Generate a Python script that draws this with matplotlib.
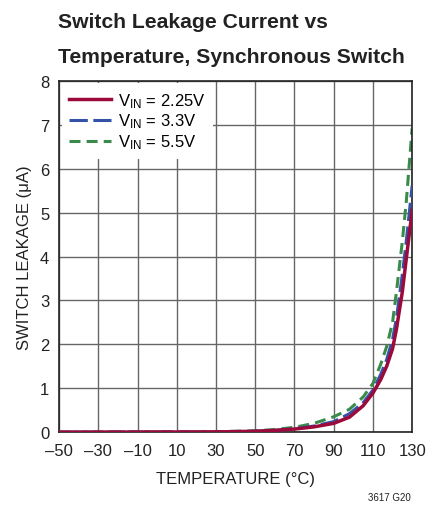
import matplotlib
matplotlib.use('Agg')
import matplotlib.pyplot as plt

# Data
temp = [-50, 30, 50, 60, 70, 80, 90, 98, 105, 110, 114, 117, 120, 122, 125, 127, 130]
leak_225 = [0.0, 0.005, 0.02, 0.04, 0.07, 0.12, 0.2, 0.34, 0.6, 0.89, 1.2, 1.5, 1.9, 2.35, 3.2, 3.95, 5.05]
leak_33 = [0.0, 0.005, 0.02, 0.04, 0.08, 0.14, 0.24, 0.42, 0.67, 0.96, 1.32, 1.65, 2.12, 2.6, 3.6, 4.35, 5.62]
leak_55 = [0.0, 0.01, 0.03, 0.06, 0.11, 0.2, 0.35, 0.52, 0.8, 1.11, 1.55, 1.95, 2.5, 3.2, 4.35, 5.25, 6.92]
xticks = [-50, -30, -10, 10, 30, 50, 70, 90, 110, 130]
yticks = [0, 1, 2, 3, 4, 5, 6, 7, 8]

font = ['Liberation Sans', 'DejaVu Sans']
plt.rcParams['font.family'] = font
plt.rcParams['mathtext.fontset'] = 'custom'
plt.rcParams['mathtext.rm'] = 'Liberation Sans'
plt.rcParams['mathtext.it'] = 'Liberation Sans'

fig = plt.figure(figsize=(4.28, 5.06), dpi=100)
ax = fig.add_axes([0.138, 0.144, 0.825, 0.694])

ax.plot(temp, leak_225, color='#9b0a3a', lw=2.5, label='V$_{\\mathrm{IN}}$ = 2.25V', zorder=4)
ax.plot(temp, leak_33, color='#3552a8', lw=2.2, dashes=(6, 1.8), label='V$_{\\mathrm{IN}}$ = 3.3V', zorder=3)
ax.plot(temp, leak_55, color='#3a8a4c', lw=2.2, dashes=(3.6, 2.0), label='V$_{\\mathrm{IN}}$ = 5.5V', zorder=2)

ax.set_xlim(-50, 130)
ax.set_ylim(0, 8)
ax.set_xticks(xticks)
ax.set_xticklabels([str(t).replace('-', '\u2013') for t in xticks])
ax.set_yticks(yticks)
ax.tick_params(axis='x', length=0, labelsize=12, colors='#222222', pad=8)
ax.tick_params(axis='y', length=0, labelsize=12, colors='#222222', pad=7)
ax.grid(True, color='#666666', lw=1.0)
for s in ax.spines.values():
    s.set_color('#222222')
    s.set_linewidth(1.2)

ax.set_xlabel('TEMPERATURE (\u00b0C)', fontsize=12, color='#222222', labelpad=9)
ax.set_ylabel('SWITCH LEAKAGE (\u03bcA)', fontsize=12, color='#222222', labelpad=6)

leg = ax.legend(loc='upper left', fontsize=12, frameon=True, fancybox=False,
                borderpad=0.45, labelspacing=0.12, handlelength=2.5,
                handletextpad=0.45, borderaxespad=0.15)
leg.get_frame().set_edgecolor('none')
leg.get_frame().set_facecolor('white')
leg.get_frame().set_alpha(1)

fig.text(0.135, 0.9447, 'Switch Leakage Current vs', fontsize=15.2,
         fontweight='bold', color='#222222', va='baseline', ha='left')
fig.text(0.135, 0.8755, 'Temperature, Synchronous Switch', fontsize=15.2,
         fontweight='bold', color='#222222', va='baseline', ha='left')
fig.text(0.96, 0.01, '3617 G20', fontsize=7, color='#222222', ha='right')

fig.savefig('out.png', dpi=100)
